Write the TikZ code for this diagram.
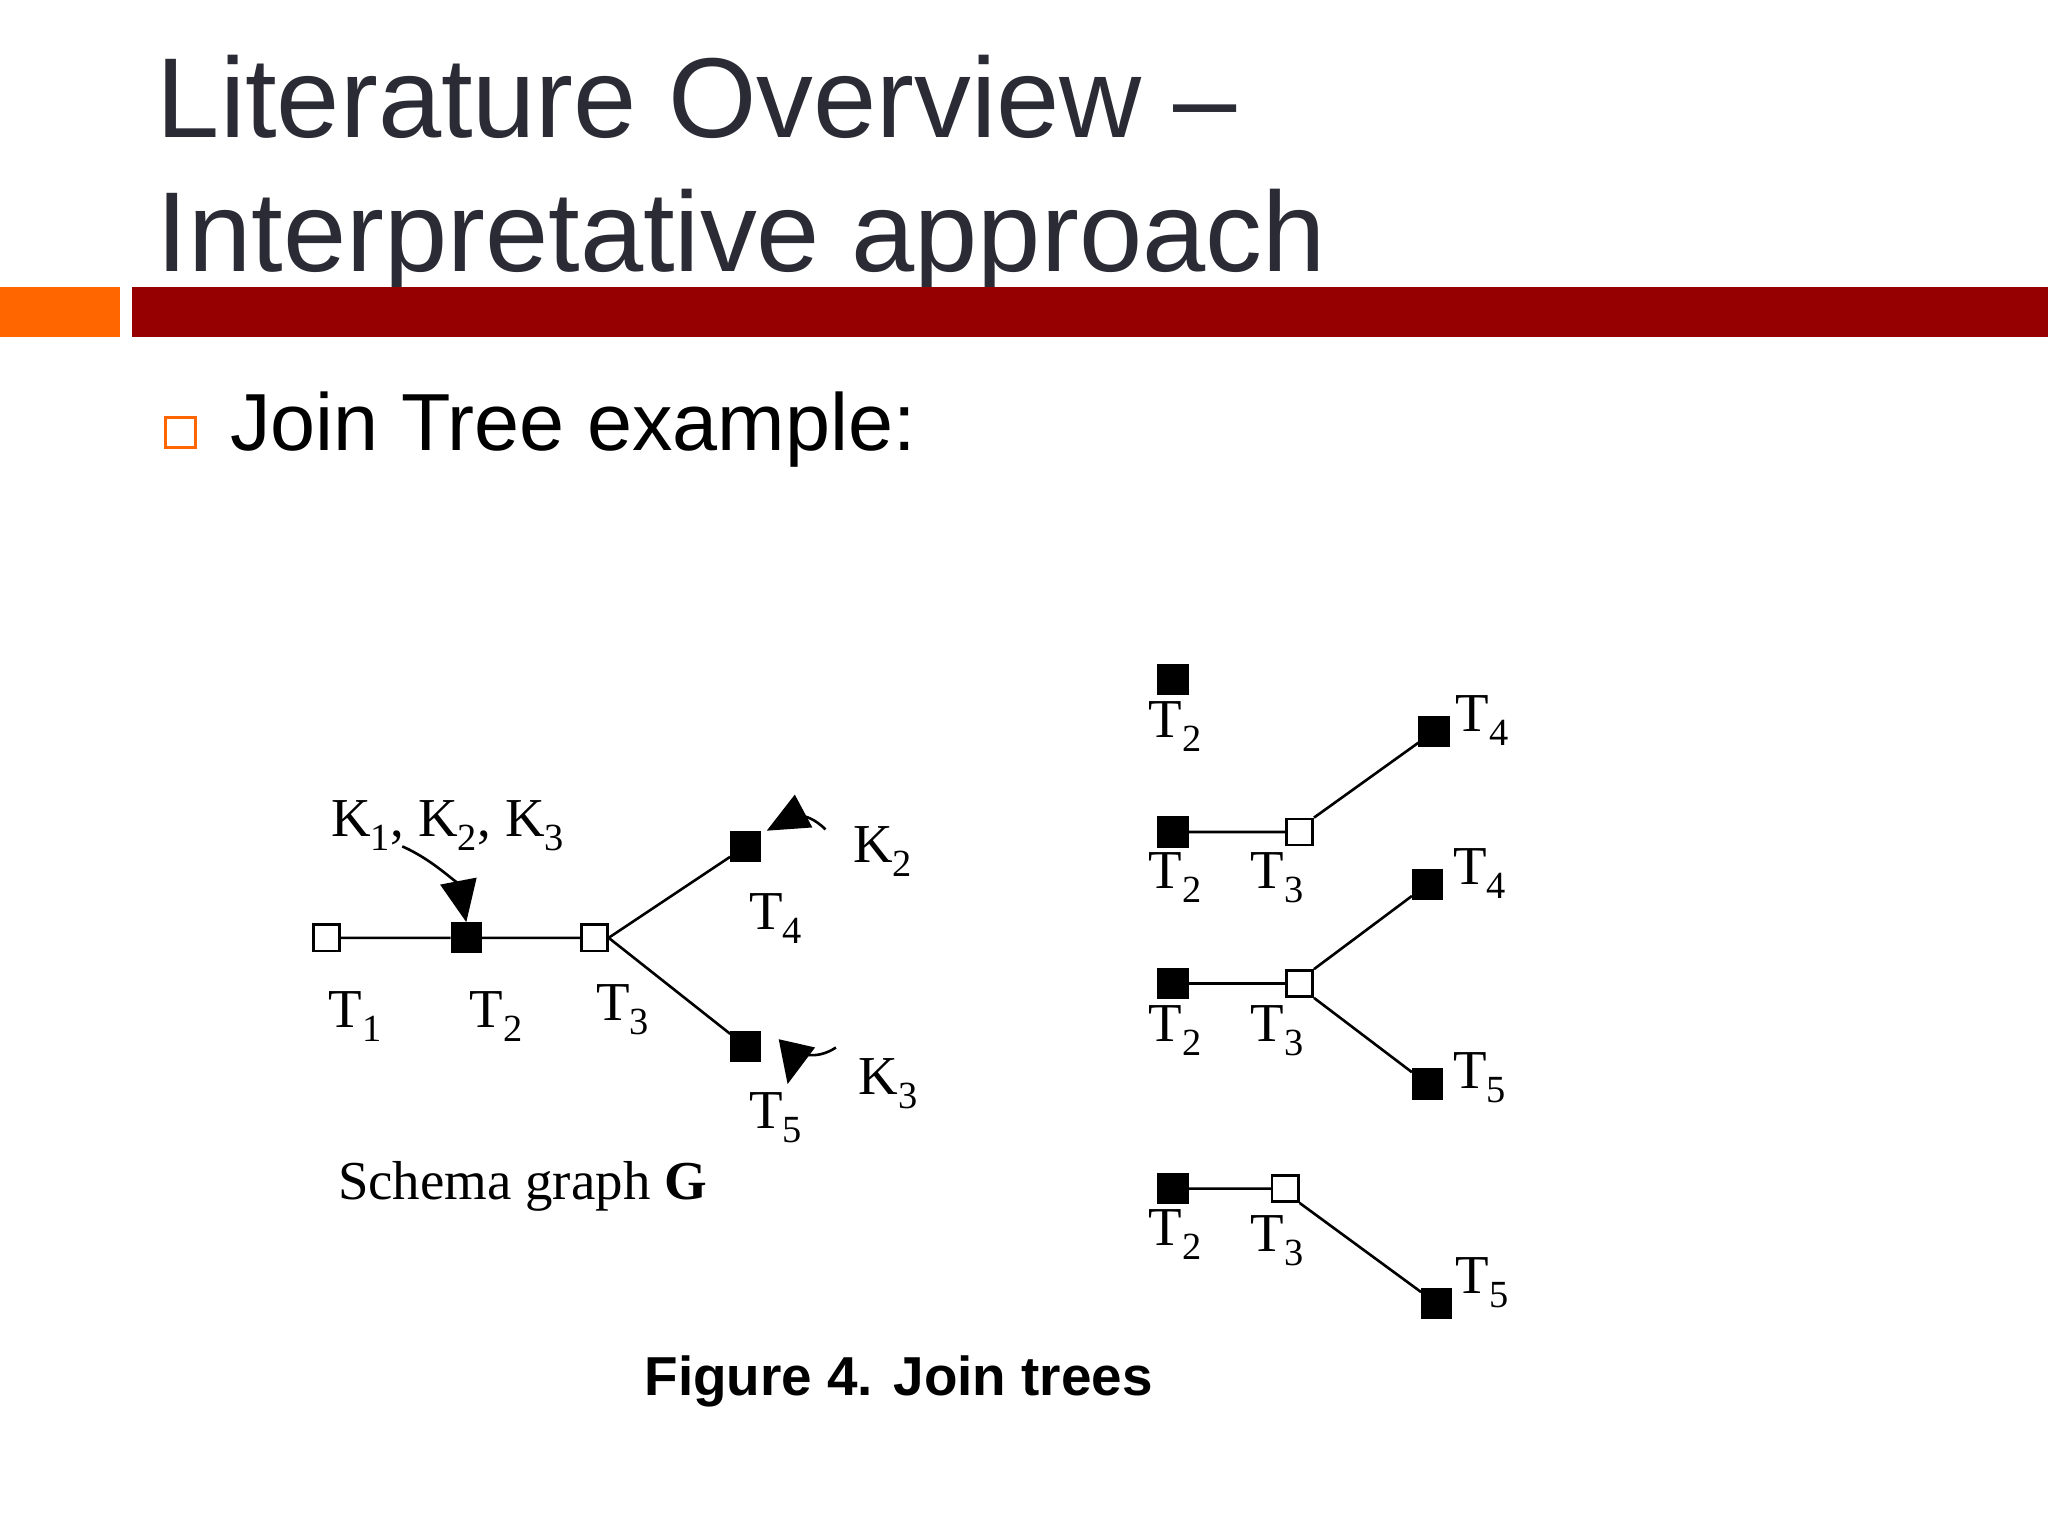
\documentclass[tikz,border=0pt]{standalone}
\usepackage{fontspec}
\setmainfont{Liberation Serif}
\setsansfont{Liberation Sans}
\usetikzlibrary{arrows.meta}
\definecolor{titlec}{HTML}{2B2B35}
\definecolor{barred}{HTML}{960000}
\definecolor{barorange}{HTML}{FF6600}
\newcommand{\sbs}[1]{\textsubscript{#1}}
\begin{document}
\begin{tikzpicture}[x=1pt,y=-1pt,
  hol/.style={draw,fill=white,line width=2pt,minimum size=20pt,inner sep=0pt},
  ful/.style={draw,fill=black,line width=2pt,minimum size=22pt,inner sep=0pt},
  lab/.style={font=\fontsize{42}{42}\selectfont,inner sep=0pt},
  edge/.style={line width=2pt},
  karr/.style={line width=2pt,-{Triangle[length=32pt,width=28pt]}}]
\useasboundingbox (0,0) rectangle (1568,1176);
\fill[white] (0,0) rectangle (1568,1176);
\node[anchor=base west,inner sep=0pt,text=titlec,font=\sffamily\fontsize{87}{87}\selectfont] (t1) at (120,105) {Literature Overview –};
\node[anchor=base west,inner sep=0pt,text=titlec,font=\sffamily\fontsize{87}{87}\selectfont] (t2) at (120,208) {Interpretative approach};
\fill[barorange] (0,220) rectangle (92,258);
\fill[barred] (101,220) rectangle (1568,258);
\node[draw=barorange,line width=2.5pt,minimum size=23pt,inner sep=0pt] (bul) at (138,331) {};
\node[anchor=base west,inner sep=0pt,font=\sffamily\fontsize{62}{62}\selectfont] (jt) at (176,345) {Join Tree example:};
% schema graph
\node[hol] (a1) at (250,718) {};
\node[ful] (a2) at (357,718) {};
\node[hol] (a3) at (455,718) {};
\node[ful] (a4) at (571,648) {};
\node[ful] (a5) at (571,801) {};
\draw[edge] (a1)--(a2) (a2)--(a3) (a3.east)--(a4) (a3.east)--(a5);
\node[lab] at (272,778) {T\sbs{1}};
\node[lab] at (380,778) {T\sbs{2}};
\node[lab] at (477,773) {T\sbs{3}};
\node[lab] at (594,703) {T\sbs{4}};
\node[lab] at (594,856) {T\sbs{5}};
\node[lab] (kk) at (343,632) {K\sbs{1}, K\sbs{2}, K\sbs{3}};
\node[lab] (k2) at (676,652) {K\sbs{2}};
\node[lab] (k3) at (680,830) {K\sbs{3}};
\node[lab] at (400,908) {Schema graph \textbf{G}};
\coordinate (c1) at (308,648);
\coordinate (c2) at (632,635);
\coordinate (c3) at (640,802);
\draw[karr] (c1) .. controls (335,660) and (352,680) .. (a2.north);
\draw[karr] (c2) .. controls (615,618) and (602,628) .. ([xshift=4pt]a4.north east);
\draw[karr] (c3) .. controls (625,812) and (608,808) .. (603,830);
% join trees
\node[ful] (b0) at (898,520) {};
\node[lab] at (900,556) {T\sbs{2}};
\node[ful] (b1) at (898,637) {};
\node[hol] (b2) at (995,637) {};
\node[ful] (b3) at (1098,560) {};
\draw[edge] (b1)--(b2) (b2.north east)--(b3);
\node[lab] at (900,672) {T\sbs{2}};
\node[lab] at (978,672) {T\sbs{3}};
\node[lab] at (1135,552) {T\sbs{4}};
\node[ful] (d1) at (898,753) {};
\node[hol] (d2) at (995,753) {};
\node[ful] (d3) at (1093,677) {};
\node[ful] (d4) at (1093,830) {};
\draw[edge] (d1)--(d2) (d2.north east)--(d3) (d2.south east)--(d4);
\node[lab] at (900,789) {T\sbs{2}};
\node[lab] at (978,789) {T\sbs{3}};
\node[lab] at (1133,669) {T\sbs{4}};
\node[lab] at (1133,825) {T\sbs{5}};
\node[ful] (e1) at (898,910) {};
\node[hol] (e2) at (984,910) {};
\node[ful] (e3) at (1100,998) {};
\draw[edge] (e1)--(e2) (e2.south east)--(e3);
\node[lab] at (900,945) {T\sbs{2}};
\node[lab] at (978,950) {T\sbs{3}};
\node[lab] at (1135,982) {T\sbs{5}};
\node[font=\sffamily\bfseries\fontsize{42}{42}\selectfont,inner sep=0pt] (cap) at (688,1058) {Figure 4. Join trees};
\end{tikzpicture}
\end{document}
